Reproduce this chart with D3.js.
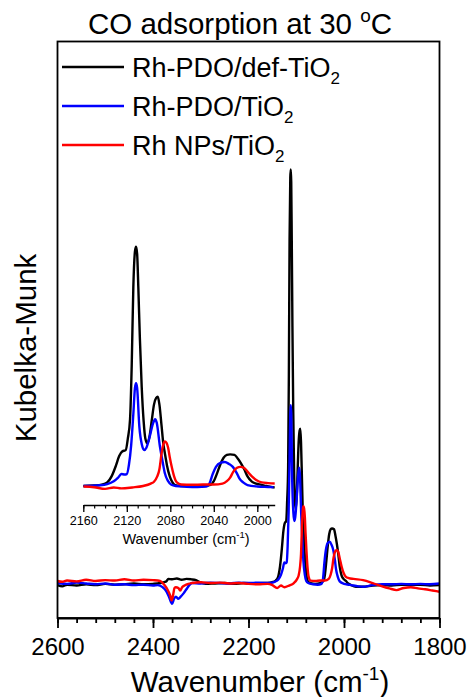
<!DOCTYPE html>
<html>
<head>
<meta charset="utf-8">
<script src="https://cdn.jsdelivr.net/npm/d3@7"></script>
<style>
  html, body { margin: 0; padding: 0; background: #fff; }
  svg { display: block; font-family: "Liberation Sans", Arial, sans-serif; }
</style>
</head>
<body>
<svg id="chart" width="469" height="697"></svg>
<script>
// DRIFTS spectra of CO adsorbed at 30 °C, [wavenumber (cm-1), Kubelka-Munk]
const rhPdoDefTiO2 = [
  [2600,-0.005],[2590,-0.008],[2580,-0.004],[2560,-0.006],[2540,-0.003],[2520,-0.005],
  [2500,-0.002],[2480,-0.004],[2460,-0.003],[2440,-0.001],[2420,-0.003],[2400,-0.002],
  [2385,0.0],[2372,0.004],[2368,0.010],[2360,0.009],[2350,0.011],[2340,0.008],[2330,0.010],
  [2320,0.009],[2310,0.007],[2302,0.002],[2290,-0.002],[2270,-0.001],[2250,0.0],[2230,-0.002],
  [2210,0.0],[2190,-0.001],[2170,0.0],[2160,0.0],[2150,0.002],[2143,0.006],[2138,0.015],
  [2134,0.04],[2130,0.085],[2127,0.125],[2124,0.145],[2121,0.15],[2119,0.2],[2117,0.28],
  [2115.5,0.5],[2114,0.83],[2112.5,0.98],[2111.5,1.0],[2110.5,0.97],[2109.4,0.83],[2108,0.62],
  [2106.3,0.415],[2104.5,0.27],[2103,0.2],[2101,0.178],[2099,0.21],[2097,0.276],[2095,0.34],
  [2093,0.368],[2091.5,0.373],[2090,0.34],[2088,0.25],[2086.5,0.18],[2085,0.137],[2083,0.085],
  [2080.5,0.04],[2078,0.015],[2075.5,0.004],[2070,0.0],[2060,-0.002],[2050,0.0],[2043,0.005],
  [2040,0.02],[2037,0.053],[2034,0.09],[2031,0.118],[2028,0.13],[2025,0.132],[2021,0.13],
  [2018,0.115],[2015,0.095],[2012,0.07],[2009,0.04],[2005,0.018],[2001,0.01],[1996,0.005],
  [1992,0.0],[1985,-0.005],[1975,-0.009],[1960,-0.009],[1940,-0.006],[1920,-0.005],
  [1900,-0.006],[1880,-0.004],[1860,-0.005],[1840,-0.004],[1820,-0.006],[1800,-0.005]
];
const rhPdoTiO2 = [
  [2600,0.0],[2580,-0.002],[2560,0.001],[2540,-0.001],[2520,-0.003],[2500,-0.001],
  [2480,-0.004],[2460,-0.003],[2440,-0.005],[2420,-0.004],[2400,-0.006],[2390,-0.005],
  [2380,-0.01],[2372,-0.02],[2366,-0.035],[2360,-0.05],[2356,-0.038],[2352,-0.033],
  [2347,-0.038],[2342,-0.033],[2336,-0.025],[2330,-0.015],[2324,-0.005],[2318,0.0],
  [2300,-0.001],[2280,0.001],[2260,0.0],[2240,-0.001],[2220,0.001],[2200,0.0],[2180,0.001],
  [2160,0.0],[2145,0.003],[2138,0.008],[2132,0.02],[2128,0.035],[2125,0.05],[2122,0.048],
  [2120,0.05],[2118,0.09],[2116,0.17],[2114,0.3],[2112.5,0.41],[2111.5,0.43],[2110.5,0.41],
  [2108.5,0.25],[2106,0.17],[2104,0.15],[2102,0.16],[2099,0.205],[2096,0.26],[2094,0.279],
  [2092.5,0.265],[2089.5,0.164],[2087,0.1],[2085,0.053],[2082,0.02],[2079,0.005],[2075,0.0],
  [2065,-0.003],[2055,-0.004],[2047,-0.002],[2044,0.01],[2041,0.05],[2038,0.08],[2034,0.097],
  [2030,0.1],[2026,0.092],[2022.5,0.08],[2019,0.055],[2016.5,0.032],[2013,0.015],[2009,0.004],
  [2000,-0.002],[1990,-0.004],[1985,-0.005],[1970,-0.008],[1960,-0.009],[1940,-0.005],
  [1920,-0.003],[1900,-0.003],[1880,-0.002],[1860,-0.003],[1840,-0.002],[1820,-0.003],[1800,-0.001]
];
const rhNpsTiO2 = [
  [2600,0.005],[2590,0.003],[2580,0.006],[2560,0.004],[2540,0.008],[2520,0.005],[2500,0.007],
  [2480,0.006],[2460,0.009],[2440,0.006],[2420,0.008],[2400,0.007],[2385,0.005],[2376,-0.005],
  [2370,-0.015],[2364,-0.03],[2361,-0.042],[2358,-0.03],[2355,-0.012],[2352,-0.01],
  [2347,-0.012],[2343,-0.018],[2339,-0.01],[2334,-0.006],[2326,-0.002],[2318,0.0],[2300,0.002],
  [2280,0.0],[2260,0.001],[2240,-0.001],[2220,0.0],[2200,-0.002],[2180,-0.003],[2160,-0.002],
  [2150,-0.005],[2140,-0.012],[2132,-0.006],[2125,-0.01],[2115,-0.006],[2105,0.0],[2098,0.01],
  [2095,0.018],[2092,0.04],[2090,0.07],[2088,0.137],[2086,0.18],[2085,0.186],[2083.5,0.18],
  [2082,0.16],[2080.5,0.12],[2078.7,0.08],[2076.5,0.04],[2074,0.015],[2070,0.006],[2060,0.005],
  [2050,0.006],[2040,0.006],[2032,0.01],[2028,0.02],[2025,0.035],[2022,0.06],[2019,0.075],
  [2015.5,0.08],[2012,0.075],[2009,0.06],[2005,0.04],[2001,0.025],[1996,0.015],[1990,0.012],
  [1980,0.01],[1960,0.007],[1940,0.0],[1920,-0.008],[1905,-0.013],[1890,-0.017],[1875,-0.012],
  [1860,-0.01],[1845,-0.013],[1830,-0.015],[1815,-0.018],[1800,-0.021]
];

const seriesNames = ["Rh-PDO/def-TiO", "Rh-PDO/TiO", "Rh NPs/TiO"];
const seriesColors = ["#000000", "#0000ff", "#ff0000"];
const seriesData = [rhPdoDefTiO2, rhPdoTiO2, rhNpsTiO2];

const mainTickLabels = [2600, 2400, 2200, 2000, 1800];
const insetTickLabels = [2160, 2120, 2080, 2040, 2000];

const svg = d3.select("#chart");

// main plot geometry
const M = { left: 57.5, right: 439.5, top: 41.5, bottom: 618 };
const x = d3.scaleLinear().domain([2600, 1800]).range([M.left, M.right]);
const y = d3.scaleLinear().domain([-0.0845, 1.309]).range([M.bottom, M.top]);

// inset geometry
const xi = d3.scaleLinear().domain([2160, 1984]).range([83.3, 274.7]);
const yi = d3.scaleLinear().domain([0, 1]).range([486, 246.7]);
const insetAxisY = 505;

const defs = svg.append("defs");
defs.append("clipPath").attr("id", "clipMain").append("rect")
  .attr("x", M.left).attr("y", M.top).attr("width", M.right - M.left).attr("height", M.bottom - M.top);
defs.append("clipPath").attr("id", "clipInset").append("rect")
  .attr("x", xi(2160)).attr("y", 200).attr("width", xi(1984) - xi(2160)).attr("height", 300);

// title
svg.append("text").attr("x", 240).attr("y", 34).attr("text-anchor", "middle")
  .attr("font-size", 29.5).attr("fill", "#000")
  .call(t => {
    t.append("tspan").text("CO adsorption at 30 ");
    t.append("tspan").attr("font-size", 19).attr("dy", -12).text("o");
    t.append("tspan").attr("dy", 12).text("C");
  });

// main spectra
const lineMain = d3.line().x(d => x(d[0])).y(d => y(d[1])).curve(d3.curveMonotoneX);
const gMain = svg.append("g").attr("clip-path", "url(#clipMain)");
seriesData.forEach((s, i) => {
  gMain.append("path").datum(s).attr("d", lineMain)
    .attr("fill", "none").attr("stroke", seriesColors[i]).attr("stroke-width", 2.4)
    .attr("stroke-linejoin", "round");
});

// inset spectra (same data, expanded)
const lineInset = d3.line().x(d => xi(d[0])).y(d => yi(d[1])).curve(d3.curveMonotoneX);
const gInset = svg.append("g").attr("clip-path", "url(#clipInset)");
seriesData.forEach((s, i) => {
  gInset.append("path").datum(s.filter(d => d[0] <= 2170 && d[0] >= 1975)).attr("d", lineInset)
    .attr("fill", "none").attr("stroke", seriesColors[i]).attr("stroke-width", 2.4)
    .attr("stroke-linejoin", "round");
});

// frame
svg.append("rect").attr("x", M.left).attr("y", M.top)
  .attr("width", M.right - M.left).attr("height", M.bottom - M.top)
  .attr("fill", "none").attr("stroke", "#000").attr("stroke-width", 1.8);

// main x axis: minor every 40, major every 200
const gxMinor = svg.append("g").attr("transform", `translate(0,${M.bottom})`)
  .call(d3.axisBottom(x).tickValues(d3.range(1800, 2601, 40)).tickSize(5).tickFormat(""));
gxMinor.select(".domain").remove();
gxMinor.selectAll("line").attr("stroke-width", 1.8);
const gx = svg.append("g").attr("transform", `translate(0,${M.bottom})`)
  .call(d3.axisBottom(x).tickValues(mainTickLabels).tickSize(10).tickSizeOuter(0).tickFormat(d3.format("d")));
gx.select(".domain").attr("stroke-width", 1.8);
gx.selectAll("line").attr("stroke-width", 1.8);
gx.selectAll("text").attr("y", 37).attr("dy", 0).attr("font-size", 24)
  .attr("font-family", "Liberation Sans, Arial, sans-serif").attr("fill", "#000");

// main axis titles
svg.append("text").attr("x", 260).attr("y", 692).attr("text-anchor", "middle")
  .attr("font-size", 29.5).attr("fill", "#000")
  .call(t => {
    t.append("tspan").text("Wavenumber (cm");
    t.append("tspan").attr("font-size", 19).attr("dy", -12).text("-1");
    t.append("tspan").attr("dy", 12).text(")");
  });
svg.append("text").attr("transform", "translate(36,348) rotate(-90)")
  .attr("text-anchor", "middle").attr("font-size", 29.5).attr("fill", "#000").text("Kubelka-Munk");

// inset x axis: minor every 10, major every 40
const gxiMinor = svg.append("g").attr("transform", `translate(0,${insetAxisY})`)
  .call(d3.axisBottom(xi).tickValues(d3.range(1990, 2161, 10)).tickSize(3.5).tickFormat(""));
gxiMinor.select(".domain").remove();
gxiMinor.selectAll("line").attr("stroke-width", 1.2);
const gxi = svg.append("g").attr("transform", `translate(0,${insetAxisY})`)
  .call(d3.axisBottom(xi).tickValues(insetTickLabels).tickSize(7).tickSizeOuter(0).tickFormat(d3.format("d")));
gxi.select(".domain").attr("stroke-width", 1.3);
gxi.selectAll("line").attr("stroke-width", 1.3);
gxi.selectAll("text").attr("y", 20).attr("dy", 0).attr("font-size", 12.6)
  .attr("font-family", "Liberation Sans, Arial, sans-serif").attr("fill", "#000");
svg.append("text").attr("x", 186).attr("y", 544).attr("text-anchor", "middle")
  .attr("font-size", 14.5).attr("fill", "#000")
  .call(t => {
    t.append("tspan").text("Wavenumber (cm");
    t.append("tspan").attr("font-size", 9.5).attr("dy", -6).text("-1");
    t.append("tspan").attr("dy", 6).text(")");
  });

// legend
const legendRows = [67, 106, 145];
seriesNames.forEach((name, i) => {
  const ry = legendRows[i];
  svg.append("line").attr("x1", 62).attr("x2", 124).attr("y1", ry).attr("y2", ry)
    .attr("stroke", seriesColors[i]).attr("stroke-width", 2.4);
  svg.append("text").attr("x", 132).attr("y", ry + 9.5).attr("font-size", 27).attr("fill", "#000")
    .call(t => {
      t.append("tspan").text(name);
      t.append("tspan").attr("font-size", 17).attr("dy", 7).text("2");
    });
});
</script>
</body>
</html>
